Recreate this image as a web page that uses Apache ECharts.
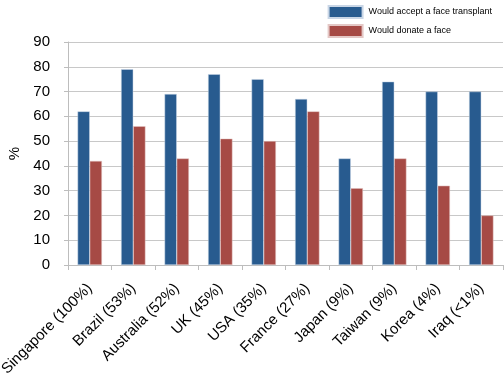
<!DOCTYPE html>
<html>
<head>
<meta charset="utf-8">
<script src="https://cdn.jsdelivr.net/npm/echarts@6/dist/echarts.min.js"></script>
<style>
  html, body { margin: 0; padding: 0; background: #fff; }
  #chart { width: 504px; height: 375px; }
</style>
</head>
<body>
<div id="chart"></div>
<script>
  const countries = ['Singapore (100%)', 'Brazil (53%)', 'Australia (52%)', 'UK (45%)', 'USA (35%)',
                     'France (27%)', 'Japan (9%)', 'Taiwan (9%)', 'Korea (4%)', 'Iraq (<1%)']
  const accept = [62, 79, 69, 77, 75, 67, 43, 74, 70, 70]
  const donate = [42, 56, 43, 51, 50, 62, 31, 43, 32, 20]
  const yTicks = { min: 0, max: 90, interval: 10 }

  const chart = echarts.init(document.getElementById('chart'))
  const font = 'Liberation Sans'
  chart.setOption({
    animation: false,
    textStyle: { fontFamily: font },
    legend: {
      orient: 'vertical',
      right: 7,
      top: 0,
      icon: 'rect',
      itemWidth: 34,
      itemHeight: 12,
      itemGap: 5,
      textStyle: { fontSize: 9, color: '#000', fontFamily: font, padding: [0, 0, 0, 1] },
      data: ['Would accept a face transplant', 'Would donate a face']
    },
    grid: { left: 68, right: 1, top: 42, bottom: 110, containLabel: false, outerBoundsMode: 'none' },
    xAxis: {
      type: 'category',
      data: countries,
      axisLine: { lineStyle: { color: '#bdbdbd', width: 1 } },
      axisTick: { show: true, length: 5, lineStyle: { color: '#bdbdbd' } },
      axisLabel: { rotate: 45, fontSize: 15, color: '#000', margin: 21, interval: 0, fontFamily: font }
    },
    yAxis: {
      type: 'value',
      min: yTicks.min, max: yTicks.max, interval: yTicks.interval,
      name: '%',
      nameLocation: 'middle',
      nameGap: 43,
      nameRotate: 90,
      nameTextStyle: { fontSize: 15, color: '#000', fontFamily: font },
      axisLine: { show: true, lineStyle: { color: '#bdbdbd' } },
      axisTick: { show: true, length: 4, lineStyle: { color: '#bdbdbd' } },
      axisLabel: { fontSize: 15, color: '#000', margin: 18, fontFamily: font },
      splitLine: { lineStyle: { color: '#c8c8c8', width: 1 } }
    },
    series: [
      {
        name: 'Would accept a face transplant',
        type: 'bar',
        data: accept,
        barGap: '0%',
        barCategoryGap: '44%',
        itemStyle: { color: '#285b8f', borderColor: '#c9d6e6', borderWidth: 0.5 }
      },
      {
        name: 'Would donate a face',
        type: 'bar',
        data: donate,
        itemStyle: { color: '#a64a45', borderColor: '#e4c8c6', borderWidth: 0.5 }
      }
    ]
  })
</script>
</body>
</html>
